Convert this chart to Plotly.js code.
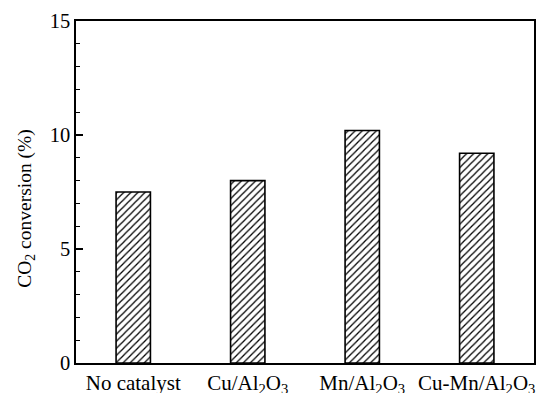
<!DOCTYPE html>
<html><head><meta charset="utf-8">
<script src="https://cdn.plot.ly/plotly-3.0.1.min.js"></script>
<style>html,body{margin:0;padding:0;background:#fff;}#chart{width:547px;height:393px;}</style>
</head><body><div id="chart"></div>
<script>
const categories = ["No catalyst", "Cu/Al<sub>2</sub>O<sub>3</sub>", "Mn/Al<sub>2</sub>O<sub>3</sub>", "Cu-Mn/Al<sub>2</sub>O<sub>3</sub>"];
const conversion = [7.5, 8.0, 10.2, 9.2];
const yTickVals = [0, 5, 10, 15];
const yTitle = "CO<sub>2</sub> conversion (%)";

const font = "Liberation Serif, Times New Roman, serif";
const trace = {
  type: "bar",
  x: [0, 1, 2, 3],
  y: conversion,
  width: 0.3,
  marker: {
    color: "#ffffff",
    line: {color: "#000", width: 1.6},
    pattern: {shape: "/", fgcolor: "#000", bgcolor: "#fff", size: 5, solidity: 0.25}
  },
  hoverinfo: "skip"
};
const layout = {
  width: 547, height: 393,
  margin: {l: 76, r: 13, t: 21, b: 30},
  paper_bgcolor: "#fff", plot_bgcolor: "#fff",
  showlegend: false,
  font: {family: font, color: "#000", size: 18},
  xaxis: {
    range: [-0.5, 3.5],
    tickvals: [0, 1, 2, 3],
    ticktext: categories,
    ticks: "", automargin: false,
    showline: true, linecolor: "#000", linewidth: 1.6, mirror: true,
    showgrid: false, zeroline: false,
    tickfont: {family: font, size: 21, color: "#000"}
  },
  yaxis: {
    range: [0, 15],
    tickvals: yTickVals,
    ticks: "inside", ticklen: 7, tickwidth: 1.2, tickcolor: "#000",
    minor: {dtick: 1, tick0: 0, ticks: "inside", ticklen: 4, tickwidth: 1, tickcolor: "#000", showgrid: false},
    showline: true, linecolor: "#000", linewidth: 1.6, mirror: true,
    showgrid: false, zeroline: false, automargin: false,
    tickfont: {family: font, size: 20.5, color: "#000"}
  },
  annotations: [{
    text: yTitle, textangle: -90, showarrow: false,
    xref: "paper", yref: "paper",
    x: -0.11, xanchor: "center", y: 0.45, yanchor: "middle",
    font: {family: font, size: 19.5, color: "#000"}
  }]
};
Plotly.newPlot("chart", [trace], layout, {staticPlot: true, displayModeBar: false});
</script></body></html>
